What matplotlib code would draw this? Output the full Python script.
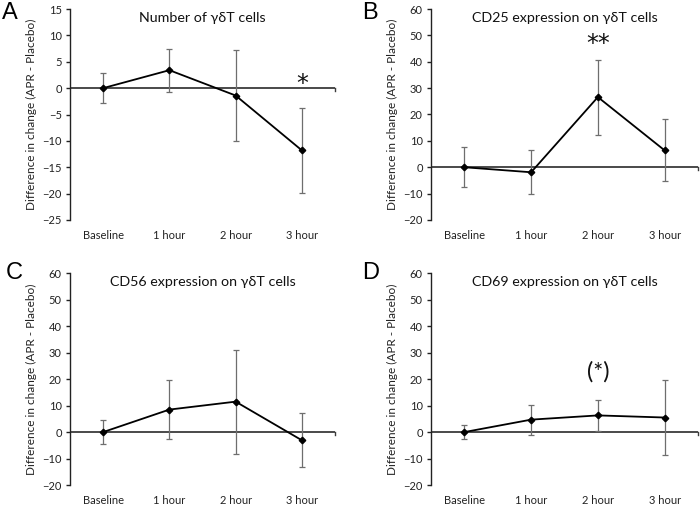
import matplotlib
matplotlib.use("Agg")
import matplotlib.pyplot as plt
import numpy as np

plt.rcParams['font.family'] = ['Lato', 'DejaVu Sans']

categories = ["Baseline", "1 hour", "2 hour", "3 hour"]

titles = ["Number of γδT cells", "CD25 expression on γδT cells",
          "CD56 expression on γδT cells", "CD69 expression on γδT cells"]
letters = ["A", "B", "C", "D"]

vals_A = [0.0, 3.4, -1.4, -11.8]
err_A = [2.8, 4.1, 8.7, 8.1]
vals_B = [0.0, -1.9, 26.6, 6.4]
err_B = [7.6, 8.3, 14.2, 11.8]
vals_C = [0.0, 8.5, 11.5, -3.1]
err_C = [4.4, 11.1, 19.7, 10.2]
vals_D = [0.0, 4.7, 6.3, 5.5]
err_D = [2.5, 5.7, 5.9, 14.1]

ylims = [(-25, 15), (-20, 60), (-20, 60), (-20, 60)]
ysteps = [5, 10, 10, 10]
sig_text = ["*", "**", None, "(*)"]
sig_pos = [(3, 1.3), (2, 47.5), None, (2, 22.7)]

series = [(vals_A, err_A), (vals_B, err_B), (vals_C, err_C), (vals_D, err_D)]

fig = plt.figure(figsize=(7, 5.05), dpi=100)
W, H = 700, 505
boxes = [(70, 335, 9, 220), (431, 698, 9, 220), (70, 335, 273.3, 485), (431, 698, 273.3, 485)]
letter_pos = [(2, 2), (362, 2), (6, 262), (362, 262)]

x = np.arange(len(categories))
for i in range(4):
    l, r, t, b = boxes[i]
    ax = fig.add_axes([l / W, 1 - b / H, (r - l) / W, (b - t) / H])
    v, e = series[i]
    ax.errorbar(x, v, yerr=e, fmt='none', ecolor='#6e6e6e', elinewidth=0.9,
                capsize=2.5, capthick=0.9, zorder=2)
    ax.plot(x, v, color='black', lw=1.3, marker='D', ms=3.3, mfc='black', mec='black', zorder=3)
    ax.axhline(0, color='#3c3c3c', lw=1.3, zorder=1)
    lo, hi = ylims[i]
    ax.set_ylim(lo, hi)
    ax.set_xlim(-0.5, 3.5)
    ax.set_yticks(np.arange(lo, hi + 0.1, ysteps[i]))
    ax.set_xticks(x)
    ax.set_xticklabels(categories)
    ax.tick_params(axis='x', length=0, pad=7, labelsize=8, colors='#222222')
    ax.tick_params(axis='y', length=3, width=1, direction='out', pad=3,
                   labelsize=8, colors='#222222')
    # small downward tick at right end of category axis
    ax.plot([3.5, 3.5], [0, -(hi - lo) * 0.015], color='#3c3c3c', lw=1.0, clip_on=False)
    for s in ['top', 'right', 'bottom']:
        ax.spines[s].set_visible(False)
    ax.spines['left'].set_color('#222222')
    ax.spines['left'].set_linewidth(1.0)
    ax.patch.set_alpha(0)
    ax.set_ylabel("Difference in change (APR - Placebo)", fontsize=8.5, labelpad=4, color='#222222')
    ax.set_title(titles[i], fontsize=10.3, pad=0, y=(1 - 0.015), va='top', color='#111111')
    if sig_text[i]:
        sx, sy = sig_pos[i]
        if sig_text[i] == "(*)":
            ax.text(sx, sy, sig_text[i], ha='center', va='center', fontsize=17, color='#111111')
        else:
            ax.text(sx, sy, sig_text[i], ha='center', va='center_baseline', fontsize=17,
                    color='#111111', family=['DejaVu Sans'])
    lx, ly = letter_pos[i]
    fig.text(lx / W, 1 - ly / H, letters[i], fontsize=17, va='top', ha='left',
             family=['Liberation Sans', 'DejaVu Sans'])

fig.savefig("out.png", dpi=100)
